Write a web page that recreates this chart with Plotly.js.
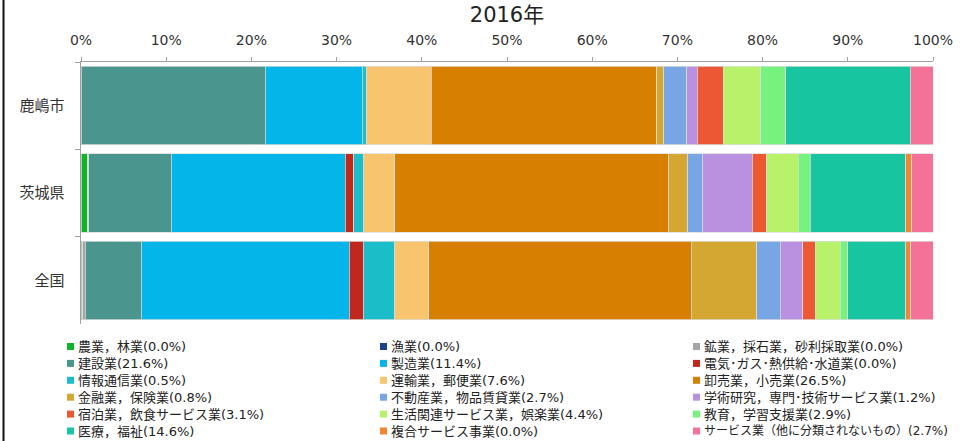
<!DOCTYPE html>
<html>
<head>
<meta charset="utf-8">
<script src="https://cdn.plot.ly/plotly-3.0.1.min.js"></script>
<style>html,body{margin:0;padding:0;background:#fff;}#chart{width:965px;height:441px;}</style>
</head>
<body>
<div id="chart"></div>
<script>
// Regions (y categories, top to bottom)
const regions = ['鹿嶋市', '茨城県', '全国'];

// Industries (trace order = legend order)
const industries = [
  '農業，林業', '漁業', '鉱業，採石業，砂利採取業',
  '建設業', '製造業', '電気･ガス･熱供給･水道業',
  '情報通信業', '運輸業，郵便業', '卸売業，小売業',
  '金融業，保険業', '不動産業，物品賃貸業', '学術研究，専門･技術サービス業',
  '宿泊業，飲食サービス業', '生活関連サービス業，娯楽業', '教育，学習支援業',
  '医療，福祉', '複合サービス事業', 'サービス業（他に分類されないもの）'
];

// Shares (%) per region, same order as industries
const kashima = [0.0, 0.0, 0.0, 21.6, 11.4, 0.0, 0.5, 7.6, 26.5, 0.8, 2.7, 1.2, 3.1, 4.4, 2.9, 14.6, 0.0, 2.7];
const ibaraki = [0.8, 0.0, 0.1, 9.7, 20.4, 1.0, 1.2, 3.6, 32.1, 2.3, 1.7, 5.9, 1.6, 3.8, 1.4, 11.2, 0.7, 2.5];
const zenkoku = [0.2, 0.0, 0.3, 6.6, 24.4, 1.6, 3.7, 4.0, 30.8, 7.7, 2.8, 2.6, 1.5, 2.9, 0.9, 6.8, 0.6, 2.6];

const colors = [
  '#0db428', '#1a438a', '#a5a5a5',
  '#4a968e', '#03b5e8', '#c0281e',
  '#1bbec8', '#f8c46e', '#d77f00',
  '#d4a632', '#78a5e3', '#ba90e0',
  '#ec5834', '#b8f26a', '#76f27e',
  '#17c6a0', '#f08630', '#f47298'
];

const xTickVals = [0, 10, 20, 30, 40, 50, 60, 70, 80, 90, 100];
const xTickText = xTickVals.map(v => v + '%');

const FONT = 'DejaVu Sans, "Noto Sans CJK JP", sans-serif';

// legend labels carry the 鹿嶋市 share
const legendLabels = industries.map((n, i) => n + '(' + kashima[i].toFixed(1) + '%)');

const traces = industries.map((name, i) => ({
  type: 'bar',
  orientation: 'h',
  name: legendLabels[i],
  y: regions,
  x: [kashima[i], ibaraki[i], zenkoku[i]],
  marker: { color: colors[i], line: { color: 'rgba(220,220,220,0.75)', width: 1 } },
  hoverinfo: 'x+name',
  showlegend: false
}));

// ---- layout geometry (pixels) ----
const W = 965, H = 441;
const M = { l: 81, r: 32, t: 62, b: 117 };
const plotL = M.l, plotR = W - M.r, plotT = M.t, plotB = H - M.b;
const px2x = p => (p - plotL) / (plotR - plotL);
const px2y = p => (plotB - p) / (plotB - plotT);

// legend drawn as a 3-column grid (squares + text)
const legCols = [67, 380, 693];
const legRow0 = 346.5, legRowH = 16.9, legSq = 7;
const legendShapes = [];
const legendAnnots = [];
legendLabels.forEach((lab, i) => {
  const col = i % 3, row = Math.floor(i / 3);
  const cx = legCols[col], cy = legRow0 + row * legRowH;
  legendShapes.push({
    type: 'rect', xref: 'paper', yref: 'paper',
    x0: px2x(cx), x1: px2x(cx + legSq),
    y0: px2y(cy - legSq / 2), y1: px2y(cy + legSq / 2),
    fillcolor: colors[i], line: { width: 0 }
  });
  legendAnnots.push({
    xref: 'paper', yref: 'paper',
    x: px2x(cx + legSq + 1.5), y: px2y(cy),
    xanchor: 'left', yanchor: 'middle',
    text: lab, showarrow: false,
    font: { family: FONT, size: (i === industries.length - 1) ? 12 : 13, color: '#222222' }
  });
});

const layout = {
  width: W,
  height: H,
  paper_bgcolor: '#ffffff',
  plot_bgcolor: '#ffffff',
  margin: M,
  barmode: 'stack',
  barnorm: 'percent',
  bargap: 0.1,
  font: { family: FONT, color: '#333333', size: 13 },
  title: {
    text: '2016年',
    font: { family: FONT, size: 21, color: '#222222' },
    xref: 'paper', x: 0.5, xanchor: 'center',
    yref: 'container', y: 0.966, yanchor: 'middle'
  },
  xaxis: {
    side: 'top',
    range: [0, 100],
    tickvals: xTickVals,
    ticktext: xTickText,
    ticks: 'outside',
    ticklen: 4,
    tickcolor: '#a0a0a0',
    showline: true,
    linecolor: '#a0a0a0',
    linewidth: 1.5,
    showgrid: false,
    zeroline: false,
    ticklabelstandoff: 6,
    tickfont: { family: FONT, size: 14, color: '#333333' },
    fixedrange: true
  },
  yaxis: {
    categoryorder: 'array',
    categoryarray: regions,
    autorange: 'reversed',
    tickson: 'boundaries',
    ticks: 'outside',
    ticklen: 5,
    tickcolor: '#a0a0a0',
    showline: true,
    linecolor: '#a0a0a0',
    linewidth: 1.5,
    showgrid: false,
    zeroline: false,
    ticklabelstandoff: 12,
    tickfont: { family: FONT, size: 15, color: '#333333' },
    fixedrange: true
  },
  showlegend: false,
  annotations: legendAnnots,
  shapes: [{
    type: 'line', xref: 'paper', yref: 'paper',
    x0: px2x(3.5), x1: px2x(3.5), y0: px2y(H + 5), y1: px2y(-5),
    line: { color: '#111111', width: 2 }
  }].concat(legendShapes)
};

Plotly.newPlot('chart', traces, layout, { displayModeBar: false, staticPlot: true });
</script>
</body>
</html>
